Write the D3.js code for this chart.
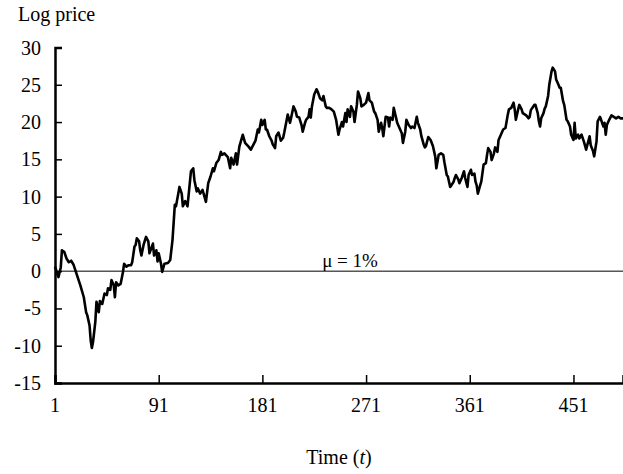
<!DOCTYPE html>
<html>
<head>
<meta charset="utf-8">
<script src="https://cdn.jsdelivr.net/npm/d3@7"></script>
<style>
  body { margin: 0; background: #fff; }
  svg { display: block; font-family: "Liberation Serif", "Times New Roman", serif; }
</style>
</head>
<body>
<svg id="chart" width="623" height="474"></svg>
<script>
// values
const timeSteps = [1,4,6,7,9,11,13,15,17,20,23,26,28,29,31,32,33,34,36,37,39,40,42,44,46,47,49,50,52,53,54,56,58,60,61,63,65,67,68,70,71,72,74,
  75,76,78,80,82,83,86,87,89,90,91,93,94,96,99,101,103,105,106,108,109,111,112,114,116,118,119,121,122,124,125,127,129,130,132,134,136,138,139,141,143,145,146,148,
  151,153,154,156,158,159,161,164,166,169,171,173,175,177,178,180,181,183,184,185,187,189,190,192,193,195,197,199,200,203,205,206,208,210,211,213,215,216,218,219,221,222,223,224,226,228,229,231,233,234,
  236,237,239,241,243,245,247,248,250,251,253,254,255,257,258,260,261,263,264,266,267,269,271,273,274,276,278,279,281,282,284,285,286,288,290,291,292,294,295,297,298,300,302,303,305,306,308,310,311,313,315,316,318,319,321,322,
  323,325,327,329,331,332,334,336,338,339,341,342,344,345,347,348,349,351,352,354,356,357,359,360,362,363,365,366,367,368,370,371,373,375,376,377,379,380,382,383,385,386,388,390,392,394,395,397,399,400,401,403,404,406,407,
  409,410,412,413,414,417,418,420,421,422,423,425,426,427,429,430,432,433,435,436,438,439,440,442,443,445,446,448,449,451,452,453,455,456,458,460,462,463,465,466,468,469,471,472,474,475,477,478,479,480,482,484,486,488,490,492,494];
const logPrice = [0.6,-0.8,0.5,2.8,2.6,1.7,1.2,1.4,0.9,-0.5,-1.9,-3.5,-5.5,-5.9,-7.3,-9.3,-10.3,-9.5,-6.8,-4.1,-5.5,-4.0,-4.4,-3.0,-3.2,-2.3,-2.5,-1.2,-1.9,-3.5,-1.5,-1.9,-1.7,-0.1,1.0,0.6,0.8,0.8,1.2,3.3,3.5,4.4,4.0,
  2.8,2.1,3.6,4.6,4.0,2.4,3.7,2.1,2.8,1.3,2.4,1.0,-0.1,1.0,1.1,1.5,4.2,8.9,8.7,10.4,11.3,10.4,8.7,9.4,8.7,11.8,13.4,13.8,12.2,10.7,11.1,10.4,10.9,10.4,9.3,11.8,12.7,13.8,13.4,14.5,14.9,16.0,15.6,15.8,
  15.3,13.8,15.2,14.3,15.8,14.3,16.7,18.3,17.2,16.7,16.3,16.9,17.5,19.0,18.6,20.3,19.6,20.3,19.0,19.0,18.1,17.5,17.0,16.5,18.1,18.6,17.5,17.9,18.6,21.0,19.9,20.6,22.1,21.4,20.7,20.6,19.6,18.7,19.9,20.3,20.7,21.7,20.6,22.1,23.7,24.4,24.1,23.2,22.9,23.5,
  22.1,21.9,21.9,21.7,21.4,20.3,18.3,19.0,20.0,19.4,21.2,20.0,21.7,20.7,22.1,21.4,20.0,22.3,24.1,23.2,22.1,22.3,22.6,23.9,22.9,22.6,21.4,21.2,20.3,18.7,19.9,19.2,18.1,20.7,20.6,19.4,20.6,20.3,21.9,20.6,19.9,19.2,18.5,17.2,18.7,20.3,19.6,19.2,19.4,19.2,20.7,19.9,19.0,18.1,17.0,16.6,
  16.8,18.0,17.6,16.8,15.4,13.8,15.6,15.8,15.6,14.6,12.9,12.7,11.3,11.5,12.0,12.5,12.9,12.3,11.8,12.5,13.4,12.5,11.3,12.9,13.6,12.9,13.1,12.0,11.5,10.4,11.5,12.0,14.3,14.5,15.6,16.5,16.0,14.9,15.8,16.6,16.0,17.6,18.3,19.0,19.2,21.0,21.7,21.9,22.6,21.7,20.3,21.7,22.3,21.7,21.2,
  21.0,20.9,20.5,20.7,21.6,22.3,22.3,21.2,20.1,19.4,20.5,21.2,21.8,22.1,23.5,25.0,26.8,27.3,26.8,25.7,25.0,24.6,24.6,22.8,22.3,20.3,20.1,19.4,18.3,17.6,19.9,17.8,18.3,17.8,18.3,17.4,16.3,16.9,18.1,16.9,16.1,15.4,17.4,20.1,20.7,20.3,19.4,19.9,18.3,19.6,20.3,20.9,20.7,20.5,20.7,20.5,20.5];
const xTicks = [1, 91, 181, 271, 361, 451];
const yTicks = [-15, -10, -5, 0, 5, 10, 15, 20, 25, 30];
const drift = 0; // mu = 1% reference line

const svg = d3.select('#chart');
const m = { left: 55, right: 623, top: 47.5, bottom: 383 };

const x = d3.scaleLinear().domain([1, 494]).range([m.left, m.right]);
const y = d3.scaleLinear().domain([-15, 30]).range([m.bottom, m.top]);

const data = timeSteps.map((t, i) => ({ t, v: logPrice[i] }));

// zero / mu line
svg.append('line')
  .attr('x1', m.left).attr('x2', m.right)
  .attr('y1', y(drift)).attr('y2', y(drift))
  .attr('stroke', '#000').attr('stroke-width', 1);

svg.append('text')
  .attr('x', 350).attr('y', y(drift) - 4)
  .attr('text-anchor', 'middle')
  .attr('font-size', 19)
  .text('μ = 1%');

// y axis, ticks point inward
const yAxis = svg.append('g')
  .attr('transform', `translate(${m.left},0)`)
  .call(d3.axisRight(y).tickValues(yTicks).tickSize(7).tickFormat(''));
yAxis.select('.domain').attr('stroke-width', 2.5);
yAxis.selectAll('.tick line').attr('stroke-width', 1.5);

svg.append('g').selectAll('text')
  .data(yTicks)
  .join('text')
  .attr('x', 41)
  .attr('y', d => y(d))
  .attr('dy', '0.35em')
  .attr('text-anchor', 'end')
  .attr('font-size', 20)
  .text(d => d);

// x axis, ticks point up
const xAxis = svg.append('g')
  .attr('transform', `translate(0,${m.bottom})`)
  .call(d3.axisTop(x).tickValues(xTicks).tickSize(8).tickFormat(''));
xAxis.select('.domain').attr('stroke-width', 2.5);
xAxis.selectAll('.tick line').attr('stroke-width', 1.5);

svg.append('g').selectAll('text')
  .data(xTicks)
  .join('text')
  .attr('x', d => x(d))
  .attr('y', 412)
  .attr('text-anchor', 'middle')
  .attr('font-size', 20)
  .text(d => d);

// series
svg.append('path')
  .datum(data)
  .attr('fill', 'none')
  .attr('stroke', '#000')
  .attr('stroke-width', 2.6)
  .attr('stroke-linejoin', 'round')
  .attr('d', d3.line().x(d => x(d.t)).y(d => y(d.v)));

// titles
svg.append('text')
  .attr('x', 18).attr('y', 21)
  .attr('font-size', 20)
  .text('Log price');

const xt = svg.append('text')
  .attr('x', 339).attr('y', 464)
  .attr('text-anchor', 'middle')
  .attr('font-size', 20);
xt.append('tspan').text('Time (');
xt.append('tspan').attr('font-style', 'italic').text('t');
xt.append('tspan').text(')');
</script>
</body>
</html>
